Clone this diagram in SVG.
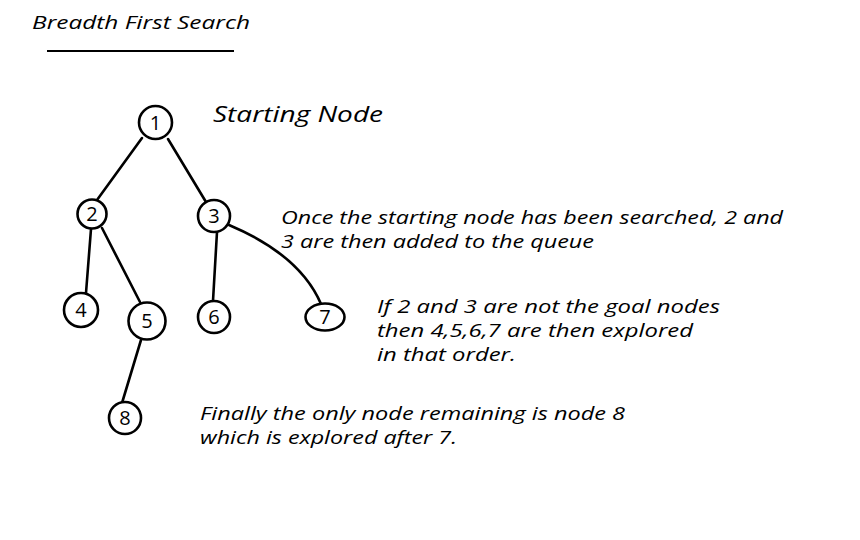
<svg xmlns="http://www.w3.org/2000/svg" width="860" height="540" viewBox="0 0 860 540">
<style>
.n{fill:#fff;stroke:#000;stroke-width:2.6}
.e{fill:none;stroke:#000;stroke-width:2.6;stroke-linecap:round}
.t{font-family:"Open Sans","DejaVu Sans",sans-serif;fill:#000;font-style:italic}
.d{font-family:"Open Sans","DejaVu Sans",sans-serif;fill:#000;font-size:20px;text-anchor:middle}
</style>
<rect width="860" height="540" fill="#fff"/>
<g id="title">
<text class="t" x="32" y="29" font-size="19" textLength="218" lengthAdjust="spacingAndGlyphs">Breadth First Search</text>
<line x1="47" y1="51" x2="234" y2="51" stroke="#000" stroke-width="2.2"/>
</g>
<g id="connectors">
<line class="e" x1="142" y1="138" x2="97" y2="200"/>
<line class="e" x1="168" y1="139" x2="206" y2="202"/>
<line class="e" x1="91" y1="229" x2="86" y2="293"/>
<line class="e" x1="102" y1="228" x2="140" y2="302"/>
<line class="e" x1="217" y1="232" x2="213" y2="301"/>
<path class="e" d="M229 225 Q300 255 321 304"/>
<line class="e" x1="141" y1="340" x2="122" y2="403"/>
</g>
<g id="node1"><circle class="n" cx="155.5" cy="122.5" r="16.5"/><text class="d" x="155.5" y="129.5">1</text></g>
<g id="node2"><circle class="n" cx="92" cy="214" r="14.5"/><text class="d" x="92" y="221">2</text></g>
<g id="node3"><circle class="n" cx="214" cy="216" r="16"/><text class="d" x="214" y="223">3</text></g>
<g id="node4"><circle class="n" cx="81" cy="310" r="17"/><text class="d" x="81" y="317">4</text></g>
<g id="node5"><circle class="n" cx="147" cy="321" r="18.5"/><text class="d" x="147" y="328">5</text></g>
<g id="node6"><circle class="n" cx="214" cy="317" r="16"/><text class="d" x="214" y="324">6</text></g>
<g id="node7"><ellipse class="n" cx="325" cy="317" rx="19.5" ry="13.5"/><text class="d" x="325" y="324">7</text></g>
<g id="node8"><circle class="n" cx="125" cy="418" r="16"/><text class="d" x="125" y="425">8</text></g>
<g id="labels">
<text class="t" x="213" y="122" font-size="22" textLength="170" lengthAdjust="spacingAndGlyphs">Starting Node</text>
<text class="t" x="281" y="224" font-size="19" textLength="502" lengthAdjust="spacingAndGlyphs">Once the starting node has been searched, 2 and</text>
<text class="t" x="281" y="248" font-size="19" textLength="313" lengthAdjust="spacingAndGlyphs">3 are then added to the queue</text>
<text class="t" x="377" y="313" font-size="19" textLength="343" lengthAdjust="spacingAndGlyphs">If 2 and 3 are not the goal nodes</text>
<text class="t" x="377" y="337" font-size="19" textLength="316" lengthAdjust="spacingAndGlyphs">then 4,5,6,7 are then explored</text>
<text class="t" x="377" y="361" font-size="19" textLength="139" lengthAdjust="spacingAndGlyphs">in that order.</text>
<text class="t" x="200" y="420" font-size="19" textLength="425" lengthAdjust="spacingAndGlyphs">Finally the only node remaining is node 8</text>
<text class="t" x="200" y="444" font-size="19" textLength="257" lengthAdjust="spacingAndGlyphs">which is explored after 7.</text>
</g>
</svg>
